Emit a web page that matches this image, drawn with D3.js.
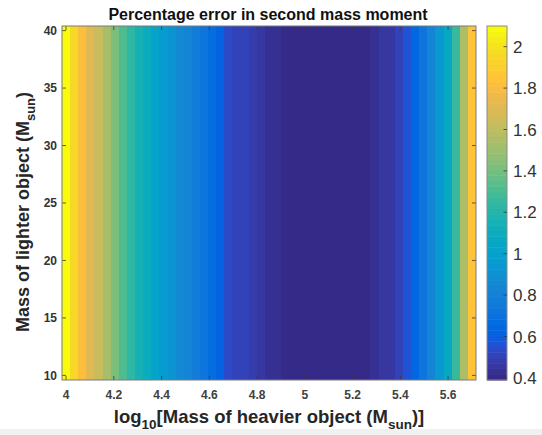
<!DOCTYPE html>
<html>
<head>
<meta charset="utf-8">
<script src="https://cdn.jsdelivr.net/npm/d3@7"></script>
<style>
  html, body { margin: 0; padding: 0; background: #ffffff; }
  svg { display: block; font-family: "Liberation Sans", Arial, Helvetica, sans-serif; }
</style>
</head>
<body>
<svg id="chart" width="542" height="435"></svg>
<script>
// ---- data ----
const xCenters = [4.000, 4.034, 4.068, 4.102, 4.136, 4.170, 4.204, 4.238, 4.272, 4.306,
                  4.340, 4.374, 4.408, 4.442, 4.476, 4.510, 4.544, 4.578, 4.612, 4.646,
                  4.680, 4.714, 4.748, 4.782, 4.816, 4.850, 4.884, 4.918, 4.952, 4.986,
                  5.020, 5.054, 5.088, 5.122, 5.156, 5.190, 5.224, 5.258, 5.292, 5.326,
                  5.360, 5.394, 5.428, 5.462, 5.496, 5.530, 5.564, 5.598, 5.632, 5.666,
                  5.700];
const errValues = [2.09, 1.95, 1.82, 1.72, 1.62, 1.52, 1.42, 1.32, 1.22, 1.15,
                   1.09, 1.03, 0.97, 0.92, 0.87, 0.82, 0.77, 0.72, 0.67, 0.63,
                   0.55, 0.52, 0.50, 0.48, 0.46, 0.44, 0.42, 0.41, 0.40, 0.395,
                   0.39, 0.39, 0.39, 0.39, 0.395, 0.40, 0.40, 0.41, 0.43, 0.45,
                   0.47, 0.51, 0.57, 0.64, 0.73, 0.83, 0.95, 1.07, 1.25, 1.55,
                   1.85];
const yRange = [10, 40];          // lighter-object mass range (rows are identical)
const xTicks = [4, 4.2, 4.4, 4.6, 4.8, 5, 5.2, 5.4, 5.6];
const yTicks = [10, 15, 20, 25, 30, 35, 40];
const cbTicks = [0.4, 0.6, 0.8, 1, 1.2, 1.4, 1.6, 1.8, 2];
const cRange = [0.39, 2.10];

// parula (64)
const parula = [[0.2081,0.1663,0.5292],[0.2116,0.1898,0.5777],[0.2123,0.2138,0.6270],[0.2081,0.2386,0.6771],[0.1959,0.2645,0.7279],[0.1707,0.2919,0.7792],[0.1253,0.3242,0.8303],[0.0591,0.3598,0.8683],[0.0117,0.3875,0.8820],[0.0060,0.4086,0.8828],[0.0165,0.4266,0.8786],[0.0329,0.4430,0.8720],[0.0498,0.4586,0.8641],[0.0629,0.4737,0.8554],[0.0723,0.4887,0.8467],[0.0779,0.5040,0.8384],[0.0793,0.5200,0.8312],[0.0749,0.5375,0.8263],[0.0641,0.5570,0.8240],[0.0488,0.5772,0.8228],[0.0343,0.5966,0.8199],[0.0265,0.6137,0.8135],[0.0239,0.6287,0.8038],[0.0231,0.6418,0.7913],[0.0228,0.6535,0.7768],[0.0267,0.6642,0.7607],[0.0384,0.6743,0.7436],[0.0590,0.6838,0.7254],[0.0843,0.6928,0.7062],[0.1133,0.7015,0.6859],[0.1453,0.7098,0.6646],[0.1801,0.7177,0.6424],[0.2178,0.7250,0.6193],[0.2586,0.7317,0.5954],[0.3022,0.7376,0.5712],[0.3482,0.7424,0.5473],[0.3953,0.7459,0.5244],[0.4420,0.7481,0.5033],[0.4871,0.7491,0.4840],[0.5300,0.7491,0.4661],[0.5709,0.7485,0.4494],[0.6099,0.7473,0.4337],[0.6473,0.7456,0.4188],[0.6834,0.7435,0.4044],[0.7184,0.7411,0.3905],[0.7525,0.7384,0.3768],[0.7858,0.7356,0.3633],[0.8185,0.7327,0.3498],[0.8507,0.7299,0.3360],[0.8824,0.7274,0.3217],[0.9139,0.7258,0.3063],[0.9450,0.7261,0.2886],[0.9739,0.7314,0.2666],[0.9938,0.7455,0.2403],[0.9990,0.7653,0.2164],[0.9955,0.7861,0.1967],[0.9880,0.8066,0.1794],[0.9789,0.8271,0.1633],[0.9697,0.8481,0.1475],[0.9626,0.8705,0.1309],[0.9589,0.8949,0.1132],[0.9598,0.9218,0.0948],[0.9661,0.9514,0.0755],[0.9763,0.9831,0.0538]];
const parulaCss = parula.map(c => d3.rgb(c[0]*255, c[1]*255, c[2]*255).formatHex());

// ---- layout ----
const svg = d3.select("#chart");
const plot = {left: 62, right: 476, top: 26, bottom: 380};
const cb = {left: 487, right: 507, top: 26, bottom: 380};

svg.append("rect").attr("x", 0).attr("y", 429).attr("width", 542).attr("height", 6).attr("fill", "#f1f1f1");

const dx = (xCenters[1] - xCenters[0]);
const x = d3.scaleLinear()
  .domain([xCenters[0] - dx / 2, xCenters[xCenters.length - 1] + dx / 2])
  .range([plot.left, plot.right]);
const y = d3.scaleLinear().domain([yRange[0] - 0.4, yRange[1] + 0.4]).range([plot.bottom, plot.top]);

const cIndex = d3.scaleQuantize().domain(cRange).range(d3.range(64));
const color = v => parulaCss[cIndex(Math.max(cRange[0], Math.min(cRange[1], v)))];

// heatmap columns
const cells = xCenters.map((xc, i) => ({x0: xc - dx / 2, x1: xc + dx / 2, v: errValues[i]}));
svg.append("g").selectAll("rect").data(cells).join("rect")
  .attr("x", d => x(d.x0))
  .attr("width", d => x(d.x1) - x(d.x0) + 0.4)
  .attr("y", y.range()[1])
  .attr("height", y.range()[0] - y.range()[1])
  .attr("fill", d => color(d.v))
  .attr("shape-rendering", "crispEdges");

// axes (MATLAB-like inward ticks on all sides)
const axisColor = "#3a3a3a";
const tickLen = 4;
const gx = svg.append("g");
xTicks.forEach(t => {
  gx.append("line").attr("x1", x(t)).attr("x2", x(t)).attr("y1", plot.bottom).attr("y2", plot.bottom - tickLen)
    .attr("stroke", axisColor).attr("stroke-width", 0.8);
  gx.append("line").attr("x1", x(t)).attr("x2", x(t)).attr("y1", plot.top).attr("y2", plot.top + tickLen)
    .attr("stroke", axisColor).attr("stroke-width", 0.8);
});
gx.selectAll("text").data(xTicks).join("text")
  .attr("x", d => x(d)).attr("y", 399)
  .attr("text-anchor", "middle")
  .attr("font-size", 12).attr("font-weight", "bold").attr("fill", "#404040")
  .text(d => d3.format("~g")(d));

const gy = svg.append("g");
yTicks.forEach(t => {
  gy.append("line").attr("x1", plot.left).attr("x2", plot.left + tickLen).attr("y1", y(t)).attr("y2", y(t))
    .attr("stroke", axisColor).attr("stroke-width", 0.8);
  gy.append("line").attr("x1", plot.right).attr("x2", plot.right - tickLen).attr("y1", y(t)).attr("y2", y(t))
    .attr("stroke", axisColor).attr("stroke-width", 0.8);
});
gy.selectAll("text").data(yTicks).join("text")
  .attr("x", 57).attr("y", d => y(d)).attr("dy", "0.35em")
  .attr("text-anchor", "end")
  .attr("font-size", 12).attr("font-weight", "bold").attr("fill", "#333333")
  .text(d => d);

svg.append("rect").attr("x", plot.left).attr("y", plot.top)
  .attr("width", plot.right - plot.left).attr("height", plot.bottom - plot.top)
  .attr("fill", "none").attr("stroke", "#7a7a7a").attr("stroke-width", 1);

// colorbar
const cy = d3.scaleLinear().domain(cRange).range([cb.bottom, cb.top]);
const cbStep = (cRange[1] - cRange[0]) / 64;
svg.append("g").selectAll("rect").data(d3.range(64)).join("rect")
  .attr("x", cb.left).attr("width", cb.right - cb.left)
  .attr("y", i => cy(cRange[0] + (i + 1) * cbStep))
  .attr("height", i => cy(cRange[0] + i * cbStep) - cy(cRange[0] + (i + 1) * cbStep) + 0.5)
  .attr("fill", i => parulaCss[i]);
svg.append("rect").attr("x", cb.left).attr("y", cb.top)
  .attr("width", cb.right - cb.left).attr("height", cb.bottom - cb.top)
  .attr("fill", "none").attr("stroke", "#8a8a8a").attr("stroke-width", 1);
const gcb = svg.append("g");
cbTicks.forEach(t => {
  gcb.append("line").attr("x1", cb.right).attr("x2", cb.right - 3.5).attr("y1", cy(t)).attr("y2", cy(t))
    .attr("stroke", axisColor).attr("stroke-width", 0.8);
});
gcb.selectAll("text").data(cbTicks).join("text")
  .attr("x", 513).attr("y", d => cy(d)).attr("dy", "0.36em")
  .attr("font-size", 17).attr("fill", "#333333")
  .text(d => d3.format("~g")(d));

// title
svg.append("text").attr("x", 268).attr("y", 20).attr("text-anchor", "middle")
  .attr("font-size", 16).attr("font-weight", "bold").attr("fill", "#111")
  .text("Percentage error in second mass moment");

// x label
const xl = svg.append("text").attr("x", 269).attr("y", 423).attr("text-anchor", "middle")
  .attr("font-size", 18.5).attr("font-weight", "bold").attr("fill", "#262626");
xl.append("tspan").text("log");
xl.append("tspan").attr("dy", 5.5).attr("font-size", 13.5).text("10");
xl.append("tspan").attr("dy", -5.5).text("[Mass of heavier object (M");
xl.append("tspan").attr("dy", 5.5).attr("font-size", 13.5).text("sun");
xl.append("tspan").attr("dy", -5.5).text(")]");

// y label
const yl = svg.append("text").attr("transform", "translate(29,212) rotate(-90)").attr("text-anchor", "middle")
  .attr("font-size", 18).attr("font-weight", "bold").attr("fill", "#262626");
yl.append("tspan").text("Mass of lighter object (M");
yl.append("tspan").attr("dy", 5.5).attr("font-size", 13).text("sun");
yl.append("tspan").attr("dy", -5.5).text(")");
</script>
</body>
</html>
